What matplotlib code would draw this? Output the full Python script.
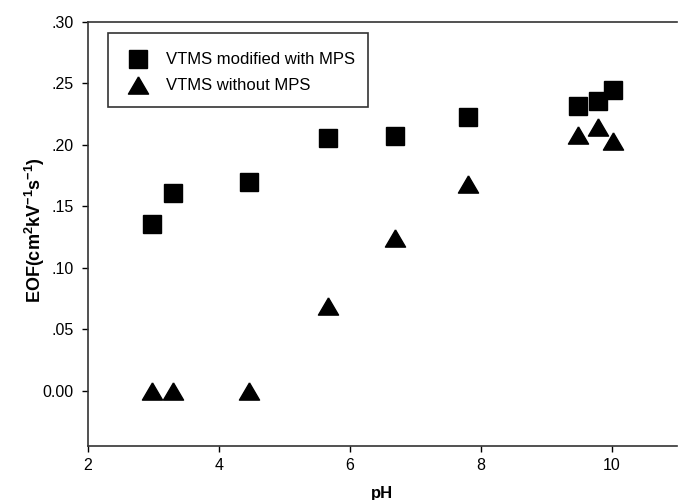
import matplotlib
matplotlib.use("Agg")
import matplotlib.pyplot as plt
from matplotlib.ticker import FixedLocator
from matplotlib.patches import Rectangle

plt.rcParams['font.family'] = ['Liberation Sans', 'DejaVu Sans']
plt.rcParams['mathtext.fontset'] = 'custom'
plt.rcParams['mathtext.rm'] = 'Liberation Sans'
plt.rcParams['mathtext.bf'] = 'Liberation Sans:bold'

ph = [2.98, 3.30, 4.46, 5.66, 6.69, 7.80, 9.48, 9.80, 10.02]
eof_with_mps = [0.136, 0.161, 0.170, 0.206, 0.207, 0.223, 0.232, 0.236, 0.245]
eof_without_mps = [0.000, 0.000, 0.000, 0.069, 0.124, 0.168, 0.208, 0.2145, 0.203]
label_with = "VTMS modified with MPS"
label_without = "VTMS without MPS"
yticks = [0.00, 0.05, 0.10, 0.15, 0.20, 0.25, 0.30]
yticklabels = ["0.00", ".05", ".10", ".15", ".20", ".25", ".30"]
xticks = [2, 4, 6, 8, 10]

W, H = 678, 500
fig = plt.figure(figsize=(W/100, H/100), dpi=100)
ax_l, ax_r, ax_t, ax_b = 88, 677, 22, 446
ax = fig.add_axes([ax_l/W, 1-ax_b/H, (ax_r-ax_l)/W, (ax_b-ax_t)/H])

def fx(px):
    return (px - ax_l) / (ax_r - ax_l)

def fy(py):
    return (ax_b - py) / (ax_b - ax_t)

tri = [(0, 1), (-1.17, -1), (1.17, -1), (0, 1)]

ax.plot(ph, eof_with_mps, linestyle='none', marker='s', markersize=12.5,
        color='black', label=label_with)
ax.plot(ph, eof_without_mps, linestyle='none', marker=tri, markersize=14.5,
        color='black', label=label_without)

ax.set_xlim(2, 11)
ax.set_ylim(-0.045, 0.30)
ax.xaxis.set_major_locator(FixedLocator(xticks))
ax.set_yticks(yticks)
ax.set_yticklabels(yticklabels)
ax.tick_params(direction='out', length=4.3, width=1, labelsize=11.5, colors='black')
ax.tick_params(axis='y', pad=6)
ax.tick_params(axis='x', pad=4.5)
ax.spines['right'].set_visible(False)
for s in ['left', 'bottom', 'top']:
    ax.spines[s].set_linewidth(1.2)
    ax.spines[s].set_color('#333333')

ax.set_xlabel("pH", fontsize=12, fontweight='bold', va='top')
ax.xaxis.set_label_coords(0.5, fy(486))
ax.set_ylabel(r"EOF(cm$^\mathbf{2}$kV$^\mathbf{-1}$s$^\mathbf{-1}$)", fontsize=13,
              fontweight='bold')
ax.yaxis.set_label_coords(fx(47), fy(230))

leg = ax.legend(loc='center left', bbox_to_anchor=(fx(125), fy(73)), fontsize=12,
                frameon=False, borderpad=0, labelspacing=0.66, handletextpad=0.86,
                handlelength=1.6, borderaxespad=0)
ax.add_patch(Rectangle((fx(108), fy(107)), fx(368) - fx(108), fy(33) - fy(107),
                       transform=ax.transAxes, fill=False, edgecolor='#333333',
                       linewidth=1.2, zorder=5))

fig.savefig("out.png", dpi=100)
